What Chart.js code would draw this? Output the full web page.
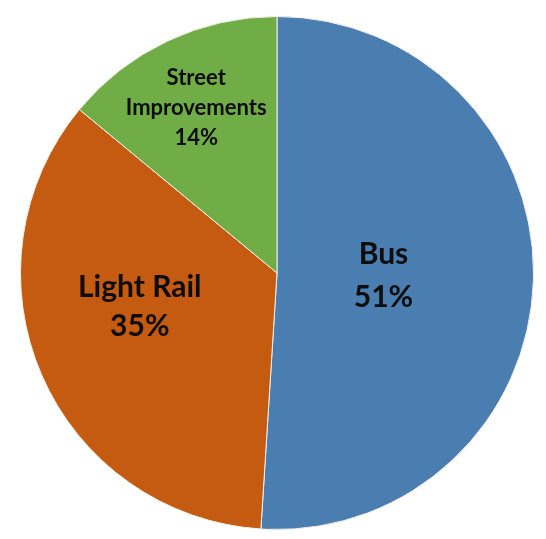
<!DOCTYPE html>
<html>
<head>
<meta charset="utf-8">
<script src="https://cdn.jsdelivr.net/npm/chart.js@4.4.0/dist/chart.umd.min.js"></script>
<style>
  html, body { margin: 0; padding: 0; background: #fff; }
  #wrap { width: 546px; height: 539px; }
</style>
</head>
<body>
<div id="wrap"><canvas id="pie"></canvas></div>
<script>
const categories = ["Bus", "Light Rail", "Street Improvements"];
const shares = [51, 35, 14];
const sliceColors = ["#4a7eb0", "#c55a11", "#70ad47"];

// label text lines, font size and where to put them (fraction of radius from center)
const labelLines = [["Bus", "51%"], ["Light Rail", "35%"], ["Street", "Improvements", "14%"]];
const labelSize = [30, 30, 22];
const labelLineH = [43, 39, 30];
const labelPos = [[0.415, 0.01], [-0.535, 0.13], [-0.315, -0.645]];

const sliceLabels = {
  id: "sliceLabels",
  afterDatasetsDraw(chart) {
    const ctx = chart.ctx;
    const meta = chart.getDatasetMeta(0);
    meta.data.forEach((arc, i) => {
      const r = arc.outerRadius;
      const cx = arc.x + labelPos[i][0] * r;
      const cy = arc.y + labelPos[i][1] * r;
      const lines = labelLines[i];
      const lh = labelLineH[i];
      ctx.save();
      ctx.font = "bold " + labelSize[i] + "px Lato";
      ctx.fillStyle = "#0d0d0d";
      ctx.textAlign = "center";
      ctx.textBaseline = "middle";
      lines.forEach((t, j) => {
        ctx.fillText(t, cx, cy + (j - (lines.length - 1) / 2) * lh);
      });
      ctx.restore();
    });
  }
};

new Chart(document.getElementById("pie"), {
  type: "pie",
  data: {
    labels: categories,
    datasets: [{
      data: shares,
      backgroundColor: sliceColors,
      borderColor: "#f4efe8",
      borderWidth: 1
    }]
  },
  options: {
    responsive: true,
    maintainAspectRatio: false,
    animation: false,
    layout: { padding: { left: 20, right: 12, top: 16, bottom: 9 } },
    plugins: {
      legend: { display: false },
      tooltip: { enabled: false }
    }
  },
  plugins: [sliceLabels]
});
</script>
</body>
</html>
